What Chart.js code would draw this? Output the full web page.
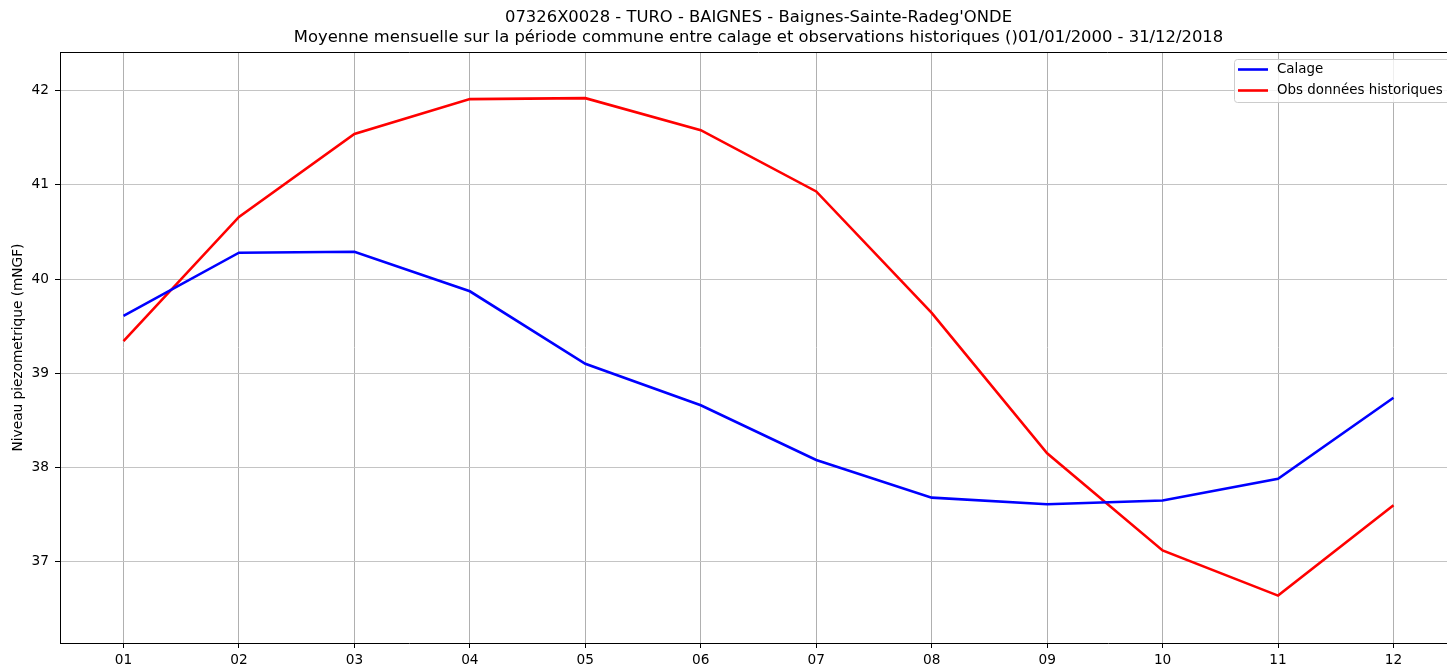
<!DOCTYPE html>
<html>
<head>
<meta charset="utf-8">
<script src="https://cdn.jsdelivr.net/npm/chart.js@4.4.1/dist/chart.umd.min.js"></script>
<style>
  html, body { margin: 0; padding: 0; background: #fff; overflow: hidden; }
  canvas { display: block; }
</style>
</head>
<body>
<canvas id="c" width="1460" height="669"></canvas>
<script>
const months = ['01','02','03','04','05','06','07','08','09','10','11','12'];
const calage = [39.61, 40.28, 40.29, 39.87, 39.10, 38.66, 38.08, 37.68, 37.61, 37.65, 37.88, 38.74];
const obsHistoriques = [39.34, 40.66, 41.54, 41.91, 41.92, 41.58, 40.93, 39.64, 38.15, 37.12, 36.64, 37.60];
const yTicks = [37, 38, 39, 40, 41, 42];
const titleLines = ["07326X0028 - TURO - BAIGNES - Baignes-Sainte-Radeg'ONDE",
  "Moyenne mensuelle sur la période commune entre calage et observations historiques ()01/01/2000 - 31/12/2018"];
const yAxisTitle = 'Niveau piezometrique (mNGF)';
const seriesNames = ['Calage', 'Obs données historiques'];
const seriesColors = ['#0000ff', '#ff0000'];

const FONT = "'DejaVu Sans', sans-serif";

const toPoints = arr => arr.map((v, i) => ({ x: i + 1, y: v }));

const decor = {
  id: 'decor',
  afterDraw(chart) {
    const { ctx, chartArea: a } = chart;
    ctx.save();
    // top spine
    ctx.strokeStyle = '#000';
    ctx.lineWidth = 1;
    ctx.beginPath();
    ctx.moveTo(a.left, a.top + 0.5);
    ctx.lineTo(a.right, a.top + 0.5);
    ctx.stroke();
    // title
    ctx.fillStyle = '#000';
    ctx.font = '16.4px ' + FONT;
    ctx.textAlign = 'center';
    ctx.textBaseline = 'alphabetic';
    const cx = (a.left + a.right) / 2;
    ctx.fillText(titleLines[0], cx, 22);
    ctx.fillText(titleLines[1], cx, 42);
    // y axis title
    ctx.font = '13.7px ' + FONT;
    ctx.translate(18, (a.top + a.bottom) / 2);
    ctx.rotate(-Math.PI / 2);
    ctx.textBaseline = 'middle';
    ctx.fillText(yAxisTitle, 0, 0);
    ctx.restore();

    // legend
    ctx.save();
    const lx = 1234.5, ly = 59.5, lw = 230, lh = 43;
    ctx.fillStyle = 'rgba(255,255,255,0.8)';
    ctx.strokeStyle = '#cccccc';
    ctx.lineWidth = 1;
    ctx.beginPath();
    ctx.roundRect(lx, ly, lw, lh, 3);
    ctx.fill();
    ctx.stroke();
    ctx.font = '13.4px ' + FONT;
    ctx.textAlign = 'left';
    ctx.textBaseline = 'middle';
    const rows = [69.5, 90.5];
    seriesNames.forEach((name, i) => {
      ctx.strokeStyle = seriesColors[i];
      ctx.lineWidth = 2.6;
      ctx.beginPath();
      ctx.moveTo(1238, rows[i]);
      ctx.lineTo(1268, rows[i]);
      ctx.stroke();
      ctx.fillStyle = '#000';
      ctx.fillText(name, 1277, rows[i]);
    });
    ctx.restore();
  }
};

new Chart(document.getElementById('c'), {
  type: 'line',
  data: {
    datasets: [
      { label: seriesNames[0], data: toPoints(calage), borderColor: seriesColors[0], backgroundColor: seriesColors[0], borderWidth: 2.6, pointRadius: 0, tension: 0, fill: false },
      { label: seriesNames[1], data: toPoints(obsHistoriques), borderColor: seriesColors[1], backgroundColor: seriesColors[1], borderWidth: 2.6, pointRadius: 0, tension: 0, fill: false }
    ]
  },
  options: {
    responsive: false,
    animation: false,
    devicePixelRatio: 1,
    layout: { padding: { left: 0, top: 52, right: 3, bottom: 0 } },
    plugins: { legend: { display: false }, title: { display: false }, tooltip: { enabled: false } },
    scales: {
      x: {
        type: 'linear',
        min: 0.45,
        max: 12.55,
        afterBuildTicks: s => { s.ticks = months.map((m, i) => ({ value: i + 1 })); },
        afterFit: s => { s.height = 26; },
        ticks: {
          callback: v => months[Math.round(v) - 1],
          font: { family: FONT, size: 13.7 },
          color: '#000',
          padding: 4,
          maxRotation: 0,
          autoSkip: false
        },
        grid: { color: '#b0b0b0', lineWidth: 1, tickLength: 5, tickColor: '#000', drawTicks: true },
        border: { color: '#000', width: 1 }
      },
      y: {
        type: 'linear',
        min: 36.137,
        max: 42.41,
        afterBuildTicks: s => { s.ticks = yTicks.map(v => ({ value: v })); },
        afterFit: s => { s.width = 60; },
        ticks: {
          callback: v => String(v),
          font: { family: FONT, size: 13.7 },
          color: '#000',
          padding: 6
        },
        grid: { color: '#c4c4c4', lineWidth: 1, tickLength: 5, tickColor: '#000', drawTicks: true },
        border: { color: '#000', width: 1 }
      }
    }
  },
  plugins: [decor]
});
</script>
</body>
</html>
